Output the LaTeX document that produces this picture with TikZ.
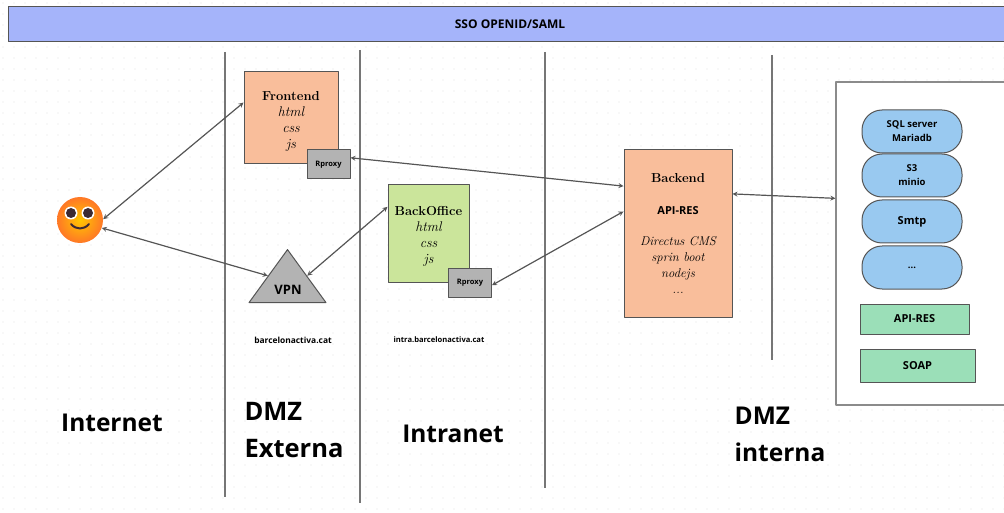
\documentclass[tikz,border=0pt]{standalone}
\usepackage{fontspec}
\setsansfont{Open Sans}
\usetikzlibrary{shapes.geometric}
\definecolor{linegray}{HTML}{555555}
\definecolor{wallgray}{HTML}{767676}
\definecolor{peach}{HTML}{F9BE9B}
\definecolor{lime}{HTML}{CBE59B}
\definecolor{sky}{HTML}{99C9F0}
\definecolor{mint}{HTML}{9BDFB8}
\definecolor{proxygray}{HTML}{B3B3B3}
\definecolor{barblue}{HTML}{A5B4FA}
\definecolor{griddot}{HTML}{E2E2E2}
\definecolor{eyedark}{HTML}{3B2A33}
\newcommand{\zonefont}{\sffamily\bfseries\fontsize{24.5}{37}\selectfont}
\newcommand{\hostfont}{\sffamily\bfseries\fontsize{8.4}{10}\selectfont}
\newcommand{\titlefont}{\rmfamily\bfseries\fontsize{13}{16}\selectfont\rule{0pt}{15pt}}
\newcommand{\handfont}{\rmfamily\itshape\fontsize{14}{16}\selectfont}
\newcommand{\handsmall}{\rmfamily\itshape\fontsize{12.7}{16}\selectfont}
\tikzset{
	box/.style={draw=linegray,line width=1pt,inner sep=0pt,align=center,font=\fontsize{13}{16}\selectfont},
	pill/.style={box,fill=sky,minimum width=100pt,minimum height=43pt,rounded corners=20pt,font=\sffamily\bfseries\fontsize{9.5}{14}\selectfont},
	proxy/.style={box,fill=proxygray,minimum width=43pt,minimum height=29pt,font=\sffamily\bfseries\fontsize{7.5}{9}\selectfont},
	api/.style={box,fill=mint,font=\sffamily\bfseries\fontsize{11}{12}\selectfont},
	link/.style={<->,draw=linegray,line width=1.2pt},
	wall/.style={draw=wallgray,line width=1.2pt},
	zone/.style={align=left,inner sep=0pt,font=\zonefont},
	host/.style={inner sep=0pt,font=\hostfont}
}
\begin{document}
\begin{tikzpicture}[x=1pt,y=-1pt,line join=round,>=stealth]
	\useasboundingbox (0,0) rectangle (1004,513);
	% faint dots of the canvas
	\foreach \i in {0,...,91}
		\foreach \j in {0,...,46}
			\fill[griddot] (\i*11+3,\j*11+3) circle (0.6pt);
	% top bar
	\node[box,fill=barblue,minimum width=1004pt,minimum height=35pt,font=\sffamily\bfseries\fontsize{12}{14}\selectfont] (sso) at (510,24.5) {SSO OPENID/SAML};
	% zone walls
	\coordinate (w1a) at (225,52);
	\coordinate (w1b) at (225,497);
	\coordinate (w2a) at (360,50);
	\coordinate (w2b) at (360,503);
	\coordinate (w3a) at (545,52);
	\coordinate (w3b) at (545,488);
	\coordinate (w4a) at (772,55);
	\coordinate (w4b) at (772,360);
	\draw[wall] (w1a)--(w1b);
	\draw[wall] (w2a)--(w2b);
	\draw[wall] (w3a)--(w3b);
	\draw[wall] (w4a)--(w4b);
	% boxes
	\node[box,fill=peach,minimum width=94pt,minimum height=92pt] (frontend) at (291,118) {{\titlefont Frontend}\\{\handfont html}\\{\handfont css}\\{\handfont js}};
	\node[proxy] (proxyA) at (328.5,164.5) {Rproxy};
	\node[box,fill=lime,minimum width=81pt,minimum height=97pt] (backoffice) at (428.5,233.5) {{\titlefont BackOffice}\\{\handfont html}\\{\handfont css}\\{\handfont js}};
	\node[proxy] (proxyB) at (470,282.5) {Rproxy};
	\node[box,fill=peach,minimum width=108pt,minimum height=167pt] (backend) at (678,233.5) {{\rmfamily\bfseries\fontsize{13}{14}\selectfont Backend}\\[16pt]{\sffamily\bfseries\fontsize{11}{14}\selectfont API-RES}\\[15pt]{\handsmall Directus CMS}\\{\handsmall sprin boot}\\{\handsmall nodejs}\\{\handsmall ...}};
	\node[isosceles triangle,isosceles triangle stretches,shape border rotate=90,draw=linegray,line width=1pt,fill=proxygray,inner sep=0pt,minimum width=77pt,minimum height=53pt] (vpn) at (287.5,283) {};
	\node[inner sep=0pt,font=\sffamily\bfseries\fontsize{13}{15}\selectfont] (vpntext) at (288,290) {VPN};
	% services on the right
	\node[draw=wallgray!85,line width=1.2pt,fill=white,minimum width=176pt,minimum height=323pt] (services) at (924,243.5) {};
	\node[pill] (sql) at (912,131.5) {SQL server\\Mariadb};
	\node[pill] (minio) at (912,175.5) {S3\\minio};
	\node[pill,font=\sffamily\bfseries\fontsize{11}{14}\selectfont] (smtp) at (912,221.5) {Smtp};
	\node[pill] (more) at (912,267.5) {...};
	\node[api,minimum width=109pt,minimum height=30pt] (apires) at (914.5,319) {API-RES};
	\node[api,minimum width=115pt,minimum height=33pt] (soap) at (917.5,365.5) {SOAP};
	% the user
	\node[circle,minimum size=46pt,inner sep=0pt,inner color=yellow!55!orange,outer color=orange!75!red!85!white] (user) at (80,220) {};
	\fill[white] (71,213) circle (6.5pt) (88,213) circle (6.5pt);
	\fill[eyedark] (71,213) circle (5pt) (88,213) circle (5pt);
	\draw[eyedark,line width=2pt,line cap=round] (71,224) .. controls (76,230) and (84,230) .. (89,224);
	% connectors
	\draw[link] (user.2)--(frontend.162);
	\draw[link] (user.-20)--(vpn.left side);
	\draw[link] (vpn.right side)--(backoffice.147);
	\draw[link] (proxyA.17)--(backend.139);
	\draw[link] (proxyB.-7)--(backend.158);
	\draw[link] (backend.36)--(services.153);
	% texts
	\node[host] (hostA) at (293,340) {barcelonactiva.cat};
	\node[host,font=\sffamily\bfseries\fontsize{7.6}{10}\selectfont] (hostB) at (439,340) {intra.barcelonactiva.cat};
	\node[zone] (internet) at (112,423) {Internet};
	\node[zone,font=\sffamily\bfseries\fontsize{25.5}{37}\selectfont] (dmzext) at (294,430) {DMZ\\Externa};
	\node[zone] (intranet) at (453,434) {Intranet};
	\node[zone] (dmzint) at (780,434.5) {DMZ\\interna};
\end{tikzpicture}
\end{document}
